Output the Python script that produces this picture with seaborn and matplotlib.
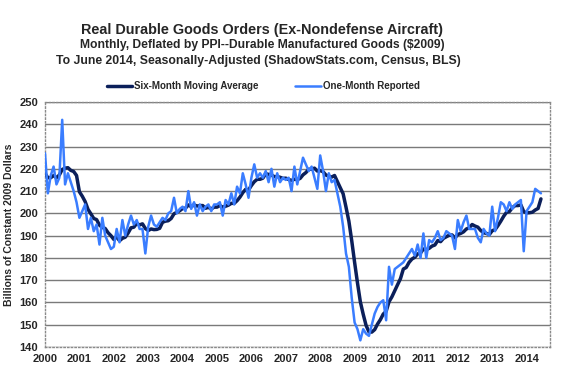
import numpy as np
import pandas as pd
import matplotlib
matplotlib.use("Agg")
import matplotlib.pyplot as plt
import seaborn as sns

# Dados mensais (jan/2000 a jun/2014), bilhões de dólares constantes de 2009
years = list(range(2000, 2015))
one_month = [
    227, 209, 217, 221, 213, 216, 242, 213, 218, 214, 210, 205,   # 2000
    198, 201, 204, 193, 198, 192, 195, 186, 198, 190, 187, 184,   # 2001
    185, 193, 187, 197, 190, 195, 199, 195, 197, 193, 193, 182,   # 2002
    194, 199, 195, 194, 196, 198, 197, 200, 201, 207, 200, 202,   # 2003
    203, 201, 210, 202, 205, 199, 204, 201, 203, 204, 201, 204,   # 2004
    204, 205, 199, 206, 204, 209, 204, 212, 209, 218, 213, 207,   # 2005
    216, 222, 216, 218, 216, 219, 214, 220, 212, 218, 214, 216,   # 2006
    215, 216, 210, 221, 213, 219, 225, 222, 219, 221, 216, 211,   # 2007
    226, 219, 210, 218, 214, 215, 209, 203, 194, 182, 176, 162,   # 2008
    151, 148, 143, 148, 146, 145, 150, 155, 158, 160, 161, 152,   # 2009
    176, 168, 175, 176, 177, 178, 180, 182, 184, 181, 186, 180,   # 2010
    191, 180, 188, 187, 189, 192, 188, 189, 192, 191, 190, 184,   # 2011
    197, 192, 196, 199, 193, 193, 193, 189, 187, 193, 191, 190,   # 2012
    203, 192, 198, 205, 204, 201, 205, 202, 204, 205, 206, 183,   # 2013
    201, 203, 205, 211, 210, 209,                                 # 2014
]
six_month = [
    218.0, 216.0, 216.0, 217.0, 216.0, 217.2, 219.7, 220.3, 220.5, 219.3, 218.8, 217.0,  # 2000
    209.7, 207.7, 205.3, 201.8, 199.8, 197.7, 197.2, 194.7, 193.7, 193.2, 191.3, 190.0,  # 2001
    188.3, 189.5, 187.7, 188.8, 189.3, 191.2, 193.5, 193.8, 195.5, 194.8, 195.3, 193.2,  # 2002
    192.3, 193.0, 192.7, 192.8, 193.3, 196.0, 196.5, 196.7, 197.7, 199.8, 200.5, 201.2,  # 2003
    202.2, 202.3, 203.8, 203.0, 203.8, 203.3, 203.5, 203.5, 202.3, 202.7, 202.0, 202.8,  # 2004
    202.8, 203.5, 202.8, 203.2, 203.7, 204.5, 204.5, 205.7, 207.3, 209.3, 210.8, 210.5,  # 2005
    212.5, 214.2, 215.3, 215.3, 215.8, 217.8, 217.5, 217.2, 216.5, 216.5, 216.2, 215.7,  # 2006
    215.8, 215.2, 214.8, 215.3, 215.2, 215.7, 217.3, 218.3, 219.8, 219.8, 220.3, 219.0,  # 2007
    219.2, 218.7, 217.2, 216.7, 216.3, 217.0, 214.2, 211.5, 208.8, 202.8, 196.5, 187.7,  # 2008
    178.0, 168.8, 160.3, 154.7, 149.7, 146.8, 146.7, 147.8, 150.3, 152.3, 154.8, 156.0,  # 2009
    160.3, 162.5, 165.3, 168.0, 170.7, 175.0, 175.7, 178.0, 179.5, 180.3, 181.8, 182.2,  # 2010
    184.0, 183.7, 184.3, 185.3, 185.8, 187.8, 187.3, 188.8, 189.5, 190.2, 190.3, 189.0,  # 2011
    190.5, 191.0, 191.7, 193.0, 193.5, 195.0, 194.3, 193.8, 192.3, 191.3, 191.0, 190.5,  # 2012
    192.2, 192.7, 194.5, 196.5, 198.7, 200.5, 200.8, 202.5, 203.5, 203.5, 203.8, 200.8,  # 2013
    200.2, 200.3, 200.5, 201.5, 202.2, 206.5,                                            # 2014
]
y_ticks = list(range(140, 251, 10))

# Eixo de tempo em fração de ano
t = 2000 + np.arange(len(one_month)) / 12
df = pd.DataFrame({"Ano": t, "Seis": six_month, "Um": one_month})

sns.set_style("white")
plt.rcParams["font.family"] = ["Liberation Sans", "DejaVu Sans"]
plt.rcParams["font.weight"] = "bold"

fig = plt.figure(figsize=(5.78, 3.87), dpi=100)
ax = fig.add_axes([45 / 578, 1 - 347 / 387, 505 / 578, 245 / 387])

sns.lineplot(data=df, x="Ano", y="Seis", ax=ax, color="#0b1f5a", linewidth=2.5,
             label="Six-Month Moving Average", zorder=3)
sns.lineplot(data=df, x="Ano", y="Um", ax=ax, color="#3a7dff", linewidth=1.8,
             label="One-Month Reported", zorder=4)

ax.set_xlim(2000, 2014.68)
ax.set_ylim(140, 250)
ax.set_xticks(years)
ax.set_xticklabels([str(y) for y in years], fontsize=8, fontweight="bold")
ax.set_yticks(y_ticks)
ax.set_yticklabels([str(v) for v in y_ticks], fontsize=8, fontweight="bold")
ax.tick_params(axis="both", direction="out", length=3, width=0.8, color="#555555", pad=2)
ax.set_xlabel("")
ax.set_ylabel("Billions of Constant 2009 Dollars", fontsize=7.5, fontweight="bold", labelpad=4)

ax.grid(axis="y", color="#7a7a7a", linewidth=1.0, linestyle="-")
ax.set_axisbelow(True)
for s in ax.spines.values():
    s.set_visible(True)
    s.set_color("#8a8a8a")
    s.set_linestyle(":")
    s.set_linewidth(1.0)

# Legenda acima do gráfico
ax.get_legend().remove()
h, l = ax.get_legend_handles_labels()
fig.legend(h, l, loc="center", bbox_to_anchor=(263 / 578, 1 - 86 / 387), ncol=2,
           frameon=False, handlelength=2.6, handletextpad=0.2,
           columnspacing=3.8, prop={"weight": "bold", "size": 7})

# Títulos centrados um pouco à esquerda, como no original
cx = 262 / 578
fig.text(cx, 1 - 30 / 387, "Real Durable Goods Orders (Ex-Nondefense Aircraft)",
         ha="center", va="center", fontsize=10.4, fontweight="bold")
fig.text(cx, 1 - 45 / 387, "Monthly, Deflated by PPI--Durable Manufactured Goods ($2009)",
         ha="center", va="center", fontsize=8.7, fontweight="bold")
fig.text(cx - 4 / 578, 1 - 61 / 387, "To June 2014, Seasonally-Adjusted (ShadowStats.com, Census, BLS)",
         ha="center", va="center", fontsize=8.8, fontweight="bold")

fig.savefig("out.png", dpi=100)
